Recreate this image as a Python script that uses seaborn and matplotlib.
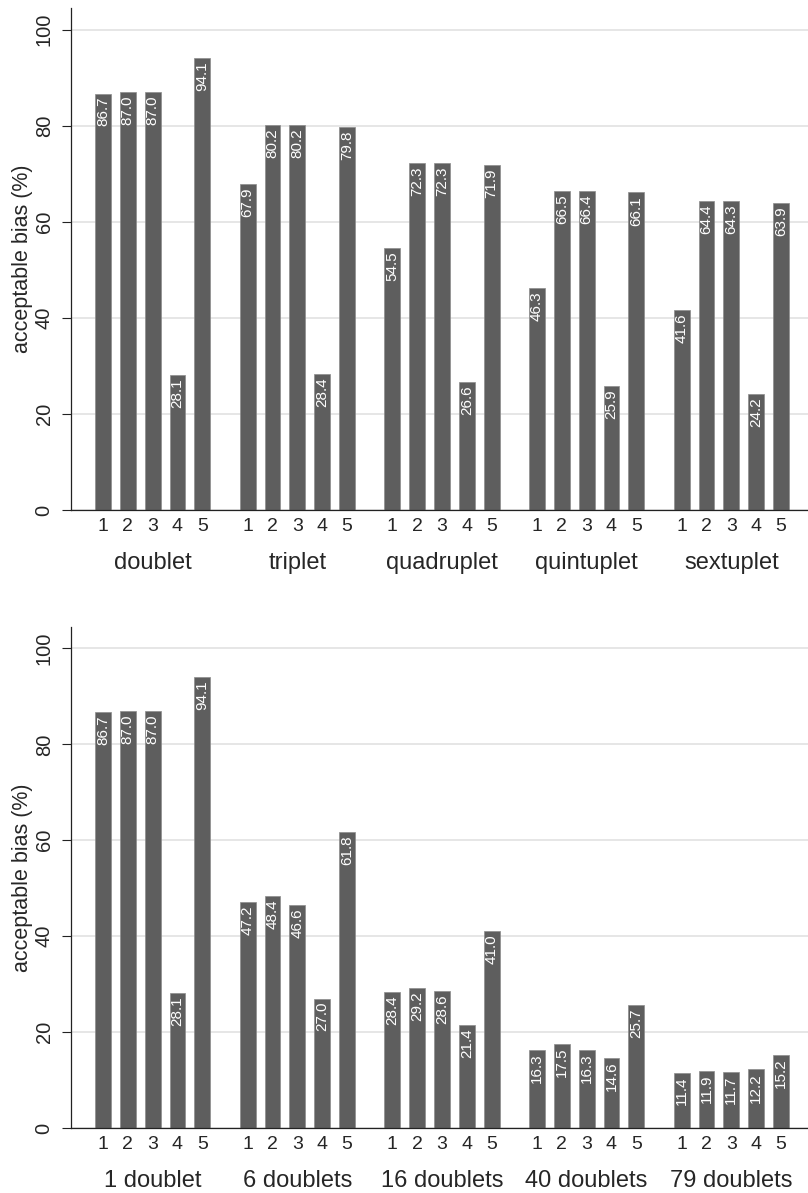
import seaborn as sns
import pandas as pd
import matplotlib.pyplot as plt
from matplotlib.transforms import blended_transform_factory

# values
SETTINGS = [1, 2, 3, 4, 5]

TOP_GROUPS = ['doublet', 'triplet', 'quadruplet', 'quintuplet', 'sextuplet']
doublet = [86.7, 87.0, 87.0, 28.1, 94.1]
triplet = [67.9, 80.2, 80.2, 28.4, 79.8]
quadruplet = [54.5, 72.3, 72.3, 26.6, 71.9]
quintuplet = [46.3, 66.5, 66.4, 25.9, 66.1]
sextuplet = [41.6, 64.4, 64.3, 24.2, 63.9]

BOTTOM_GROUPS = ['1 doublet', '6 doublets', '16 doublets', '40 doublets', '79 doublets']
d1 = [86.7, 87.0, 87.0, 28.1, 94.1]
d6 = [47.2, 48.4, 46.6, 27.0, 61.8]
d16 = [28.4, 29.2, 28.6, 21.4, 41.0]
d40 = [16.3, 17.5, 16.3, 14.6, 25.7]
d79 = [11.4, 11.9, 11.7, 12.2, 15.2]

Y_TICKS = [0, 20, 40, 60, 80, 100]

GROUP_STEP = 5.83
BAR = '#5e5e5e'


def make_frame(groups, series):
    rows = []
    for g, (name, vals) in enumerate(zip(groups, series)):
        for i, (s, v) in enumerate(zip(SETTINGS, vals)):
            rows.append(dict(group=name, setting=s, value=v, pos=g * GROUP_STEP + i))
    return pd.DataFrame(rows)


top = make_frame(TOP_GROUPS, [doublet, triplet, quadruplet, quintuplet, sextuplet])
bottom = make_frame(BOTTOM_GROUPS, [d1, d6, d16, d40, d79])

sns.set_theme(style='white')
plt.rcParams['font.family'] = ['Liberation Sans', 'DejaVu Sans']

fig = plt.figure(figsize=(8.08, 11.93), dpi=100)
ax1 = fig.add_axes([0.0879, 0.5725, 0.9121, 0.4208])
ax2 = fig.add_axes([0.0879, 0.0545, 0.9121, 0.4200])


def draw(ax, df, groups):
    ax.yaxis.grid(True, color='#e2e2e2', linewidth=1.2)
    ax.set_axisbelow(True)
    sns.barplot(data=df, x='pos', y='value', native_scale=True, width=0.64,
                color=BAR, edgecolor='#8c8c8c', linewidth=0.5, errorbar=None,
                saturation=1, ax=ax)
    for _, r in df.iterrows():
        ax.annotate(f"{r['value']:.1f}", (r['pos'], r['value']), xytext=(0, -2.5),
                    textcoords='offset points', rotation=90, ha='center', va='top',
                    color='white', fontsize=11)
    ax.set_xlim(-1.29, df['pos'].max() + 1.09)
    ax.set_ylim(0, 104.5)
    ax.set_xticks(df['pos'])
    ax.set_xticklabels([str(s) for s in df['setting']], fontsize=14)
    ax.tick_params(axis='x', length=0, pad=5.5)
    ax.set_yticks(Y_TICKS)
    ax.set_yticklabels([str(t) for t in Y_TICKS], rotation=90, va='center', fontsize=14.5)
    ax.tick_params(axis='y', length=6.5, width=0.8, pad=6, color='#222222', left=True)
    for side in ['top', 'right']:
        ax.spines[side].set_visible(False)
    for side in ['left', 'bottom']:
        ax.spines[side].set_color('#222222')
        ax.spines[side].set_linewidth(0.9)
    ax.set_xlabel('')
    ax.set_ylabel('acceptable bias (%)', fontsize=15.5)
    ax.yaxis.set_label_coords(-0.052, 0.5)
    trans = blended_transform_factory(ax.transData, ax.transAxes)
    for g, name in enumerate(groups):
        ax.annotate(name, (g * GROUP_STEP + 2, 0), xycoords=trans, xytext=(0, -30),
                    textcoords='offset points', ha='center', va='top', fontsize=17)


draw(ax1, top, TOP_GROUPS)
draw(ax2, bottom, BOTTOM_GROUPS)

fig.savefig('out.png', dpi=100, facecolor='white')
